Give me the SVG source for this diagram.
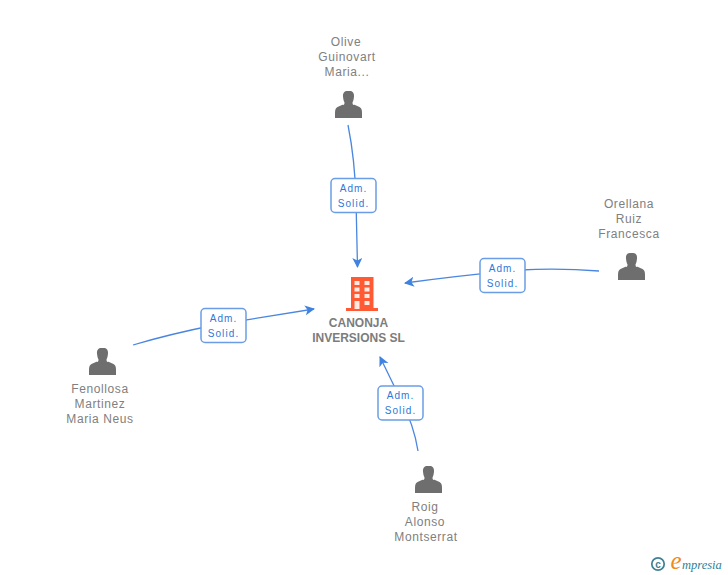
<svg xmlns="http://www.w3.org/2000/svg" width="728" height="575" viewBox="0 0 728 575">
<style>
text{font-family:"Liberation Sans",Arial,sans-serif}
.n{font-size:12px;fill:#808080;text-anchor:middle;letter-spacing:.6px}
.c{font-size:12px;font-weight:bold;fill:#7c7c7c;text-anchor:middle}
.e{fill:none;stroke:#4a86e0;stroke-width:1.3}
.b{fill:#fff;stroke:#6a9de6;stroke-width:1.5}
.l{font-size:10px;fill:#2f78d8;text-anchor:middle;letter-spacing:1.100px}
.p{fill:#6e6e6e}
</style>
<defs>
<marker id="a" markerUnits="userSpaceOnUse" markerWidth="11" markerHeight="11" refX="9" refY="5" orient="auto"><path d="M0 0L10 5L0 10L2.500 5Z" fill="#3f82e0"/></marker>
<path id="u" d="M-1.500-14C-4.500-14-5.800-11.500-5.500-8.500C-5.300-6-4.800-4-4-2.500C-4-.8-4.500.3-6-.2L-11 2C-13 3-13.500 5-13.500 8L-13.500 13L13.500 13L13.500 8C13.500 5 13 3 11 2L6-.2C4.500.3 4-.8 4-2.500C4.800-4 5.300-6 5.500-8.500C5.800-11.500 4.500-14 1.500-14Z"/>
<g id="adm"><rect class="b" x="-22.500" y="-17" width="45" height="34" rx="4"/><text class="l" y="-4">Adm.</text><text class="l" y="11">Solid.</text></g>
</defs>
<g id="connectors">
<path class="e" d="M348 125Q355 160 356 200L357.500 267" marker-end="url(#a)"/>
<path class="e" d="M599 271Q560 268 520 270Q465 275 405 283" marker-end="url(#a)"/>
<path class="e" d="M133 345Q170 334 215 325L314 309" marker-end="url(#a)"/>
<path class="e" d="M418 451Q414 425 400 398L380 357" marker-end="url(#a)"/>
</g>
<g id="edge-labels">
<use href="#adm" x="353.500" y="195.500"/>
<use href="#adm" x="502.500" y="275.500"/>
<use href="#adm" x="223.500" y="325.500"/>
<use href="#adm" x="400.500" y="403"/>
</g>
<g id="node-company">
<path d="M351 277H373.500V308H378V311H346V308H351Z" fill="#ff5a33"/>
<g fill="#ffe9e0"><rect x="354.500" y="281" width="5" height="4"/><rect x="364.500" y="281" width="5" height="4"/><rect x="354.500" y="287.500" width="5" height="4"/><rect x="364.500" y="287.500" width="5" height="4"/><rect x="354.500" y="294" width="5" height="4"/><rect x="364.500" y="294" width="5" height="4"/><rect x="354.500" y="301" width="5" height="8"/><rect x="364.500" y="301" width="5" height="4"/></g>
<text class="c" x="358.500" y="327">CANONJA</text><text class="c" x="358.500" y="342">INVERSIONS SL</text>
</g>
<g id="node-olive"><text class="n" x="346" y="46">Olive</text><text class="n" x="347" y="61">Guinovart</text><text class="n" x="347" y="76">Maria...</text><use href="#u" class="p" x="348.500" y="105"/></g>
<g id="node-orellana"><text class="n" x="629" y="208">Orellana</text><text class="n" x="629" y="223">Ruiz</text><text class="n" x="629" y="238">Francesca</text><use href="#u" class="p" x="631.500" y="267"/></g>
<g id="node-fenollosa"><use href="#u" class="p" x="102.500" y="362"/><text class="n" x="100" y="393">Fenollosa</text><text class="n" x="100" y="408">Martinez</text><text class="n" x="100" y="423">Maria Neus</text></g>
<g id="node-roig"><use href="#u" class="p" x="428.500" y="480"/><text class="n" x="425" y="511">Roig</text><text class="n" x="425" y="526">Alonso</text><text class="n" x="426" y="541">Montserrat</text></g>
<g id="logo"><circle cx="658" cy="564" r="6.200" fill="none" stroke="#3f7f96" stroke-width="1.700"/><text x="658" y="567.500" font-size="10" font-weight="bold" fill="#3f7f96" text-anchor="middle">c</text><text x="670.500" y="569" font-size="25" fill="#f08a1d" font-style="italic" style="font-family:'Liberation Serif',serif">e</text><text x="682" y="569" font-size="12.500" fill="#2f7f96" font-style="italic" style="font-family:'Liberation Serif',serif">mpresia</text></g>
</svg>
